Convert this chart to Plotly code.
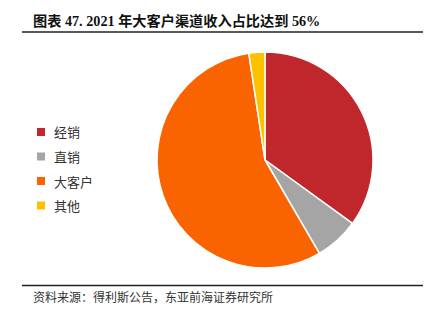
import plotly.graph_objects as go

labels = ["经销", "直销", "大客户", "其他"]
values = [35.0, 6.6, 56.0, 2.4]
colors = ["#C0272D", "#A5A5A5", "#F96400", "#FFC000"]
title_text = "图表 47. 2021 年大客户渠道收入占比达到 56%"
source_text = "资料来源：得利斯公告，东亚前海证券研究所"

W, H = 435, 325
fig = go.Figure()
fig.add_trace(go.Pie(
    labels=labels, values=values, sort=False, direction="clockwise", rotation=0,
    marker=dict(colors=colors, line=dict(color="white", width=1.5)),
    textinfo="none", hoverinfo="label+percent", showlegend=False,
    domain=dict(x=[157/W, 373/W], y=[(H-268)/H, (H-52)/H]),
))

shapes = []
annotations = []
# header/footer rules
for yy in [32, 285.5]:
    shapes.append(dict(type="line", xref="paper", yref="paper", x0=22/W, x1=423/W,
                       y0=1-yy/H, y1=1-yy/H, line=dict(color="#222", width=1.5)))
annotations.append(dict(text="<b>"+title_text+"</b>", xref="paper", yref="paper", x=31/W, y=1-21/H,
                        xanchor="left", yanchor="middle", showarrow=False,
                        font=dict(family="Liberation Serif, Noto Sans CJK SC", size=14.2, color="#111")))
annotations.append(dict(text=source_text, xref="paper", yref="paper", x=31/W, y=1-296/H,
                        xanchor="left", yanchor="middle", showarrow=False,
                        font=dict(family="Noto Sans CJK SC", size=12, color="#333")))
# legend
for i, (lab, col) in enumerate(zip(labels, colors)):
    yc = 132 + i*24.5
    shapes.append(dict(type="rect", xref="paper", yref="paper", x0=37/W, x1=45/W,
                       y0=1-(yc+4)/H, y1=1-(yc-4)/H, fillcolor=col, line=dict(width=0)))
    annotations.append(dict(text=lab, xref="paper", yref="paper", x=52/W, y=1-yc/H,
                            xanchor="left", yanchor="middle", showarrow=False,
                            font=dict(family="Noto Sans CJK SC", size=13, color="#333")))

fig.update_layout(width=W, height=H, margin=dict(l=0, r=0, t=0, b=0),
                  paper_bgcolor="white", plot_bgcolor="white",
                  shapes=shapes, annotations=annotations)
fig.write_html("out.html")
